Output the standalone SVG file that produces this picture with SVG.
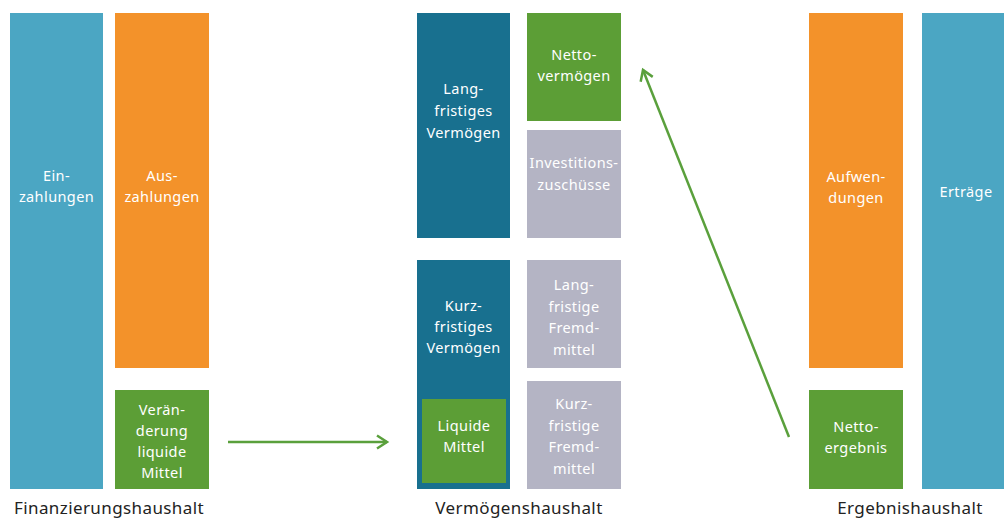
<svg xmlns="http://www.w3.org/2000/svg" width="1004" height="520" viewBox="0 0 1004 520">
<defs>
<style>
.lb{fill:#4ba6c3}.or{fill:#f3922a}.gr{fill:#5c9e36}.dt{fill:#18708f}.gy{fill:#b4b4c4}
.t{font-family:"Noto Sans","Liberation Sans",sans-serif;font-size:14.5px;fill:#fff;text-anchor:middle;letter-spacing:0.4px}
.cap{font-family:"Noto Sans","Liberation Sans",sans-serif;font-size:17px;fill:#222;text-anchor:middle;letter-spacing:0.4px}
.con{stroke:#5aa03c;stroke-width:2.5;fill:none}
</style>
<marker id="ah" markerUnits="userSpaceOnUse" markerWidth="20" markerHeight="20" viewBox="-12 -10 14 20" refX="0" refY="0" orient="auto">
<path d="M-10,-6.5 L0,0 L-10,6.5" fill="none" stroke="#5aa03c" stroke-width="2.5"/>
</marker>
</defs>
<rect width="1004" height="520" fill="#fff"/>

<g id="einzahlungen"><rect class="lb" x="10" y="13" width="93" height="476"/>
<text class="t" x="56.5" y="181">Ein-</text><text class="t" x="56.5" y="202">zahlungen</text></g>
<g id="auszahlungen"><rect class="or" x="115" y="13" width="94" height="355"/>
<text class="t" x="162" y="181">Aus-</text><text class="t" x="162" y="202">zahlungen</text></g>
<g id="veraenderung"><rect class="gr" x="115" y="390" width="94" height="99"/>
<text class="t" x="162" y="415">Verän-</text><text class="t" x="162" y="436">derung</text><text class="t" x="162" y="457">liquide</text><text class="t" x="162" y="478">Mittel</text></g>

<g id="langfr-vermoegen"><rect class="dt" x="417" y="13" width="93" height="225"/>
<text class="t" x="463.5" y="94">Lang-</text><text class="t" x="463.5" y="116">fristiges</text><text class="t" x="463.5" y="138">Vermögen</text></g>
<g id="nettovermoegen"><rect class="gr" x="527" y="13" width="94" height="108"/>
<text class="t" x="574" y="60">Netto-</text><text class="t" x="574" y="81">vermögen</text></g>
<g id="investitionszuschuesse"><rect class="gy" x="527" y="130" width="94" height="108"/>
<text class="t" x="574" y="168">Investitions-</text><text class="t" x="574" y="190">zuschüsse</text></g>
<g id="kurzfr-vermoegen"><rect class="dt" x="417" y="260" width="93" height="229"/>
<text class="t" x="463.5" y="311">Kurz-</text><text class="t" x="463.5" y="332">fristiges</text><text class="t" x="463.5" y="353">Vermögen</text></g>
<g id="liquide-mittel"><rect class="gr" x="422" y="399" width="84" height="84"/>
<text class="t" x="464" y="431">Liquide</text><text class="t" x="464" y="452">Mittel</text></g>
<g id="langfr-fremdmittel"><rect class="gy" x="527" y="260" width="94" height="108"/>
<text class="t" x="574" y="290">Lang-</text><text class="t" x="574" y="312">fristige</text><text class="t" x="574" y="333">Fremd-</text><text class="t" x="574" y="355">mittel</text></g>
<g id="kurzfr-fremdmittel"><rect class="gy" x="527" y="381" width="94" height="108"/>
<text class="t" x="574" y="409">Kurz-</text><text class="t" x="574" y="431">fristige</text><text class="t" x="574" y="452">Fremd-</text><text class="t" x="574" y="474">mittel</text></g>

<g id="aufwendungen"><rect class="or" x="809" y="13" width="94" height="355"/>
<text class="t" x="856" y="182">Aufwen-</text><text class="t" x="856" y="203">dungen</text></g>
<g id="nettoergebnis"><rect class="gr" x="809" y="390" width="94" height="99"/>
<text class="t" x="856" y="432">Netto-</text><text class="t" x="856" y="453">ergebnis</text></g>
<g id="ertraege"><rect class="lb" x="922" y="13" width="94" height="476"/>
<text class="t" x="966" y="197">Erträge</text></g>

<g id="captions">
<text class="cap" x="109" y="514">Finanzierungshaushalt</text>
<text class="cap" x="519" y="514">Vermögenshaushalt</text>
<text class="cap" x="910" y="514">Ergebnishaushalt</text>
</g>

<g id="connectors">
<line class="con" x1="228" y1="442" x2="387" y2="442" marker-end="url(#ah)"/>
<line class="con" x1="789" y1="437" x2="643" y2="70" marker-end="url(#ah)"/>
</g>
</svg>
